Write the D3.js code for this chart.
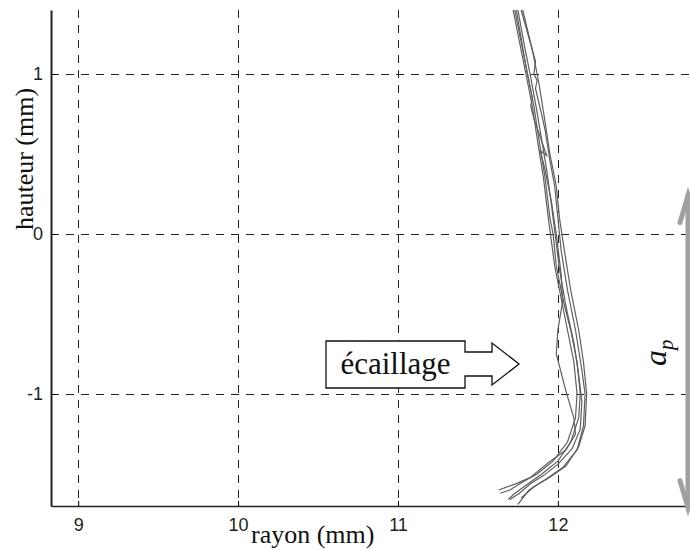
<!DOCTYPE html>
<meta charset="utf-8">
<style>
body { margin: 0; background: #fff; }
.tick text { font: 18px "Liberation Sans", Arial, sans-serif; fill: #222; }
.axisTitle { font: 26px "Liberation Serif", "Times New Roman", serif; fill: #111; }
.grid line { stroke: #222; stroke-width: 1; stroke-dasharray: 8,7; }
.trace { fill: none; stroke: #5e5e5e; stroke-width: 1.2; }
</style>
<svg width="690" height="550"></svg>
<script src="https://d3js.org/d3.v7.min.js"></script>
<script>

// grid / tick values
var xTicks = [9, 10, 11, 12];
var yTicks = [1, 0, -1];

// measured profiles (rayon mm, hauteur mm), one array per pass
var trace1 = [[11.73,1.40],[11.77,1.20],[11.81,1.00],[11.85,0.80],[11.88,0.60],[11.92,0.35],[11.95,0.10],[11.97,0.00],[11.99,-0.20],[12.03,-0.40],[12.08,-0.60],[12.12,-0.80],[12.14,-1.00],[12.13,-1.15],[12.08,-1.30],[12.00,-1.42],[11.90,-1.50],[11.80,-1.57],[11.72,-1.63],[11.69,-1.66]];
var trace2 = [[11.72,1.40],[11.76,1.20],[11.80,1.00],[11.84,0.80],[11.87,0.60],[11.91,0.35],[11.94,0.10],[11.96,-0.05],[11.98,-0.20],[12.02,-0.40],[12.06,-0.60],[12.10,-0.80],[12.12,-1.00],[12.11,-1.15],[12.06,-1.30],[11.97,-1.42],[11.87,-1.50],[11.78,-1.55],[11.70,-1.60],[11.64,-1.62]];
var trace3 = [[11.77,1.40],[11.86,1.08],[11.85,1.00],[11.87,0.96],[11.86,0.91],[11.90,0.74],[11.92,0.65],[11.95,0.46],[11.98,0.30],[12.00,0.10],[12.02,-0.10],[12.06,-0.35],[12.11,-0.60],[12.15,-0.85],[12.17,-1.00],[12.16,-1.20],[12.12,-1.35],[12.03,-1.46],[11.93,-1.53],[11.82,-1.60],[11.75,-1.69]];
var trace4 = [[11.78,1.40],[11.84,1.15],[11.88,0.95],[11.92,0.70],[11.95,0.50],[11.99,0.30],[12.01,0.10],[12.04,-0.10],[12.08,-0.35],[12.13,-0.60],[12.16,-0.80],[12.18,-1.00],[12.17,-1.20],[12.13,-1.33],[12.05,-1.45],[11.95,-1.52],[11.85,-1.58],[11.77,-1.65]];
var trace5 = [[11.74,1.40],[11.80,1.05],[11.84,0.85],[11.83,0.80],[11.85,0.72],[11.93,0.49],[11.89,0.52],[11.92,0.40],[11.96,0.20],[11.99,0.00],[12.02,-0.25],[12.03,-0.42],[12.00,-0.60],[11.99,-0.75],[12.05,-0.98],[12.10,-1.15],[12.11,-1.25],[12.05,-1.35],[11.94,-1.43],[11.83,-1.52],[11.74,-1.56],[11.63,-1.60]];
var trace6 = [[11.75,1.40],[11.79,1.18],[11.83,0.98],[11.87,0.76],[11.90,0.58],[11.93,0.40],[11.96,0.18],[11.98,0.02],[12.01,-0.22],[12.05,-0.45],[12.10,-0.68],[12.13,-0.88],[12.15,-1.05],[12.14,-1.22],[12.09,-1.34],[12.00,-1.44],[11.91,-1.51],[11.83,-1.56],[11.76,-1.62],[11.70,-1.66]];
var traces = [trace1, trace2, trace3, trace4, trace5, trace6];

// annotation arrow extent on the hauteur axis
var apRange = [0.24, -1.71];

var svg = d3.select("svg");
svg.append("rect").attr("width", 690).attr("height", 550).attr("fill", "#fff");

var x = d3.scaleLinear().domain([8.83, 12.82]).range([51, 689]);
var y = d3.scaleLinear().domain([-1.7, 1.4]).range([506, 10]);

// dashed grid
var grid = svg.append("g").attr("class", "grid");
grid.selectAll(".vx").data(xTicks).enter().append("line")
    .attr("x1", d => Math.round(x(d)) + 0.5).attr("x2", d => Math.round(x(d)) + 0.5)
    .attr("y1", y.range()[1]).attr("y2", y.range()[0]);
grid.selectAll(".hy").data(yTicks).enter().append("line")
    .attr("x1", x.range()[0]).attr("x2", 690)
    .attr("y1", d => Math.round(y(d)) + 0.5).attr("y2", d => Math.round(y(d)) + 0.5);

// profiles
var line = d3.line().x(d => x(d[0])).y(d => y(d[1]));
svg.append("g").selectAll("path").data(traces).enter().append("path")
    .attr("class", "trace")
    .attr("d", line);

// axes (plain hyphen minus, no decimals, like the original)
var fmt = d => String(d);
var xAxis = svg.append("g")
    .attr("transform", "translate(0," + 506 + ")")
    .call(d3.axisBottom(x).tickValues(xTicks).tickFormat(fmt).tickSizeInner(-5).tickSizeOuter(0).tickPadding(12));
xAxis.select(".domain").attr("stroke", "#222").attr("stroke-width", 1.3);

var yAxis = svg.append("g")
    .attr("transform", "translate(51,0)")
    .call(d3.axisLeft(y).tickValues(yTicks).tickFormat(fmt).tickSizeInner(-5).tickSizeOuter(0).tickPadding(8));
yAxis.select(".domain").attr("stroke", "#222").attr("stroke-width", 2);

svg.append("text").attr("class", "axisTitle")
    .attr("x", 251).attr("y", 543).text("rayon (mm)");
svg.append("text").attr("class", "axisTitle")
    .attr("transform", "translate(33,159) rotate(-90)")
    .attr("text-anchor", "middle").text("hauteur (mm)");

// écaillage callout: box + block arrow in one outline
var bx0 = 326, bx1 = 465, by0 = 341, by1 = 388, ym = 364;
var callout = [[bx0,by0],[bx1,by0],[bx1,ym-12],[492,ym-12],[492,ym-21],[519,ym],[492,ym+21],[492,ym+12],[bx1,ym+12],[bx1,by1],[bx0,by1]];
svg.append("path")
    .attr("d", d3.line()(callout) + "Z")
    .attr("fill", "#fff").attr("stroke", "#111").attr("stroke-width", 1.3);
svg.append("text")
    .attr("x", (bx0 + bx1) / 2).attr("y", 374)
    .attr("text-anchor", "middle")
    .style("font", "31px 'Liberation Serif', 'Times New Roman', serif")
    .attr("fill", "#111")
    .text("écaillage");

// a_p double arrow (right half of the heads falls outside the frame)
var ax = 688;
var ap = svg.append("g").attr("stroke", "#a0a0a0").attr("stroke-width", 5).attr("fill", "none").attr("stroke-linecap", "round");
ap.append("line").attr("x1", ax).attr("x2", ax).attr("y1", y(apRange[0])).attr("y2", y(apRange[1]));
ap.append("path").attr("d", d3.line()([[ax - 8, y(apRange[0]) + 27], [ax, y(apRange[0])], [ax + 8, y(apRange[0]) + 27]]));
ap.append("path").attr("d", d3.line()([[ax - 8, y(apRange[1]) - 27], [ax, y(apRange[1])], [ax + 8, y(apRange[1]) - 27]]));

var apLabel = svg.append("text")
    .attr("transform", "translate(666,366) rotate(-90)")
    .style("font", "italic 32px 'Liberation Serif', 'Times New Roman', serif")
    .attr("fill", "#111");
apLabel.append("tspan").text("a");
apLabel.append("tspan").attr("dy", 7).style("font-size", "21px").text("p");

</script>
